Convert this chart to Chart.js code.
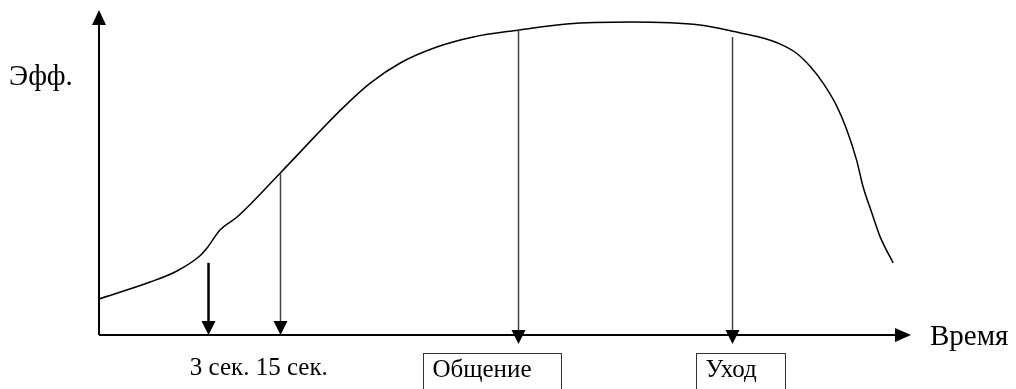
<!DOCTYPE html>
<html>
<head>
<meta charset="utf-8">
<script src="https://cdn.jsdelivr.net/npm/chart.js@4"></script>
<style>
    html, body { margin: 0; padding: 0; background: #fff; }
    #wrap { width: 1016px; height: 389px; position: relative; }
</style>
</head>
<body>
<div id="wrap"><canvas id="chart"></canvas></div>
<script>
// curve: time (x) vs effectiveness (y), both in 0..100
const timeX = [0, 6.3, 9.6, 12.4, 13.4, 14.9, 17.0, 22.3, 30.0, 33.4, 37.1, 41.6,
    46.1, 51.6, 57.6, 65.4, 74.0, 78.9, 81.4, 83.9, 85.9, 87.6, 89.2, 90.9, 92.1, 93.3,
    94.1, 95.2, 96.2, 97.8];
const effY = [11.1, 16.3, 19.7, 24.3, 27.1, 32.3, 36.3, 49.8, 69.8, 77.5, 83.7, 88.6,
    91.7, 93.8, 95.7, 96.3, 95.4, 93.0, 91.6, 89.5, 86.7, 82.6, 77.4, 70.2, 63.1, 53.8,
    45.6, 37.4, 30.2, 22.2];

// moments marked with arrows down to the time axis
const markerX = [13.4, 22.3, 51.6, 78.0];
const markerTop = [22.2, 49.8, 93.8, 91.7];
const markerNames = ["3 сек.", "15 сек.", "Общение", "Уход"];
const axisNames = ["Эфф.", "Время"];

const points = timeX.map((x, i) => ({ x: x, y: effY[i] }));

function arrowHead(ctx, x, y, dir) {
    // dir: "up", "down", "right"
    ctx.beginPath();
    if (dir === "down") {
        ctx.moveTo(x - 7, y - 14); ctx.lineTo(x + 7, y - 14); ctx.lineTo(x, y);
    } else if (dir === "up") {
        ctx.moveTo(x - 7, y + 15); ctx.lineTo(x + 7, y + 15); ctx.lineTo(x, y);
    } else {
        ctx.moveTo(x - 16, y - 7); ctx.lineTo(x - 16, y + 7); ctx.lineTo(x, y);
    }
    ctx.closePath();
    ctx.fill();
}

const sketchPlugin = {
    id: "sketch",
    afterDatasetsDraw(chart) {
        const ctx = chart.ctx;
        const xs = chart.scales.x, ys = chart.scales.y;
        const area = chart.chartArea;
        const x0 = xs.getPixelForValue(0), y0 = ys.getPixelForValue(0);

        ctx.save();
        ctx.fillStyle = "#000";
        ctx.strokeStyle = "#000";

        // axes with arrows
        ctx.lineWidth = 2;
        ctx.beginPath();
        ctx.moveTo(x0, y0); ctx.lineTo(x0, area.top + 14);
        ctx.moveTo(x0, y0); ctx.lineTo(area.right - 14, y0);
        ctx.stroke();
        arrowHead(ctx, x0, area.top, "up");
        arrowHead(ctx, area.right, y0, "right");

        // marker arrows
        markerX.forEach((v, i) => {
            const px = Math.round(xs.getPixelForValue(v)) + 0.5;
            const top = ys.getPixelForValue(markerTop[i]);
            const tip = y0 + (i < 2 ? 0 : 9);
            ctx.strokeStyle = i === 0 ? "#000" : "#444";
            ctx.fillStyle = "#000";
            ctx.lineWidth = i === 0 ? 2.5 : 1.5;
            ctx.beginPath();
            ctx.moveTo(px, top); ctx.lineTo(px, tip - 12);
            ctx.stroke();
            arrowHead(ctx, px, tip, "down");
        });

        // texts
        ctx.fillStyle = "#000";
        ctx.textBaseline = "alphabetic";
        ctx.textAlign = "left";
        ctx.font = "29px 'Liberation Serif', 'DejaVu Serif', serif";
        ctx.fillText(axisNames[0], 9, 85);
        ctx.fillText(axisNames[1], area.right + 19, 345);

        ctx.font = "25px 'Liberation Serif', 'DejaVu Serif', serif";
        const p3 = xs.getPixelForValue(markerX[0]);
        ctx.fillText(markerNames[0] + " " + markerNames[1], p3 - 18, 375);

        // boxed labels
        ctx.strokeStyle = "#333";
        ctx.lineWidth = 1;
        const boxes = [[2, -95, 138], [3, -36, 89]];
        boxes.forEach(([i, off, w]) => {
            const left = Math.round(xs.getPixelForValue(markerX[i]) + off) + 0.5;
            ctx.strokeRect(left, 353.5, w, 50);
            ctx.fillText(markerNames[i], left + 9, 377);
        });

        ctx.restore();
    }
};

new Chart(document.getElementById("chart").getContext("2d"), {
    type: "line",
    data: {
        datasets: [{
            data: points,
            borderColor: "#000",
            borderWidth: 1.5,
            pointRadius: 0,
            fill: false,
            cubicInterpolationMode: "monotone"
        }]
    },
    options: {
        responsive: true,
        maintainAspectRatio: false,
        animation: false,
        layout: { padding: { left: 99, right: 105, top: 10, bottom: 54 } },
        scales: {
            x: { type: "linear", min: 0, max: 100, display: false },
            y: { min: 0, max: 100, display: false }
        },
        plugins: {
            legend: { display: false },
            tooltip: { enabled: false }
        }
    },
    plugins: [sketchPlugin]
});
</script>
</body>
</html>
